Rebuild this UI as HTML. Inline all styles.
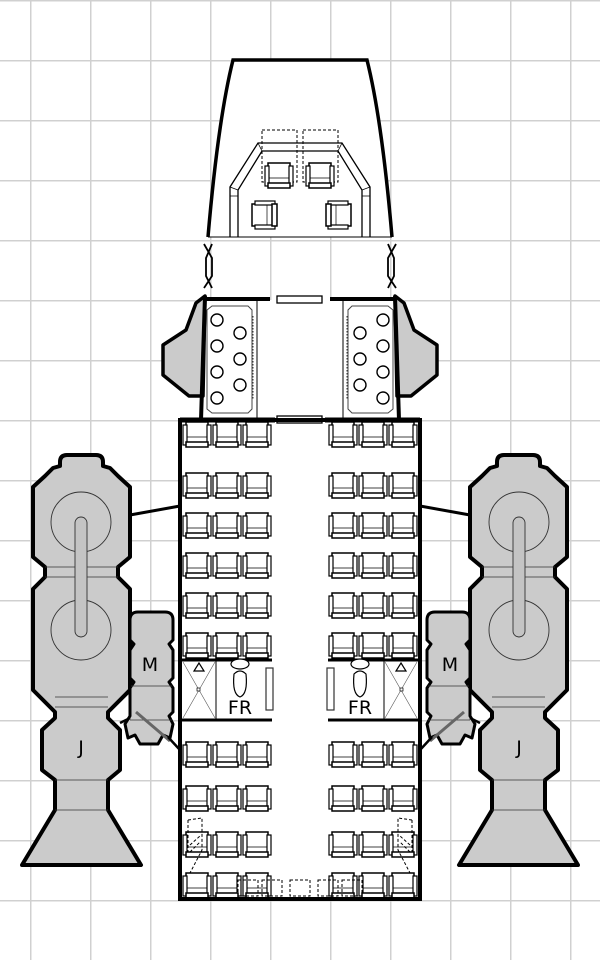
<!DOCTYPE html>
<html><head><meta charset="utf-8"><style>
html,body{margin:0;padding:0;background:#fff;}
svg{display:block;}
text{font-family:"DejaVu Sans","Liberation Sans",sans-serif;}
</style></head><body>
<svg width="600" height="960" viewBox="0 0 600 960" xmlns="http://www.w3.org/2000/svg">
<defs>
<g id="seat">
<rect x="3" y="0" width="22" height="22" fill="#fff" stroke="#000" stroke-width="1.5"/>
<rect x="0" y="3" width="4" height="20" fill="#fff" stroke="#000" stroke-width="1.2"/>
<rect x="24" y="3" width="4" height="20" fill="#fff" stroke="#000" stroke-width="1.2"/>
<line x1="4" y1="15" x2="24" y2="15" stroke="#000" stroke-width="0.7"/>
<rect x="3" y="20" width="22" height="5" fill="#fff" stroke="#000" stroke-width="1.5"/>
</g>
<g id="row">
<use href="#seat" x="0"/><use href="#seat" x="30"/><use href="#seat" x="60"/>
</g>
<pattern id="grid" width="60" height="60" patternUnits="userSpaceOnUse" x="30" y="0">
<path d="M0 0 H60 M0 0 V60" fill="none" stroke="#d0d0d0" stroke-width="3"/>
</pattern>
<g id="half">
<path d="M60 462 Q60 455 67 455 L96 455 Q103 455 103 462 L103 466 L110 468 L118 476 L130 487 L130 557 L118 567 L118 577 L130 589 L130 690 L108 712 L108 718 L120 730 L120 770 L108 780 L108 810 L141 865 L22 865 L55 810 L55 780 L42 770 L42 730 L55 718 L55 712 L33 690 L33 589 L45 577 L45 567 L33 557 L33 487 L45 476 L53 468 L60 466 Z" fill="#cbcbcb" stroke="#000" stroke-width="4" stroke-linejoin="round"/>
<line x1="45" y1="567" x2="118" y2="567" stroke="#333" stroke-width="0.8"/>
<line x1="45" y1="577" x2="118" y2="577" stroke="#333" stroke-width="0.8"/>
<line x1="55" y1="697" x2="108" y2="697" stroke="#333" stroke-width="0.8"/>
<line x1="55" y1="707" x2="108" y2="707" stroke="#333" stroke-width="0.8"/>
<line x1="55" y1="780" x2="108" y2="780" stroke="#333" stroke-width="0.8"/>
<line x1="55" y1="810" x2="108" y2="810" stroke="#333" stroke-width="0.8"/>
<circle cx="81" cy="522" r="30" fill="none" stroke="#333" stroke-width="0.9"/>
<circle cx="81" cy="630" r="30" fill="none" stroke="#333" stroke-width="0.9"/>
<rect x="75" y="517" width="12" height="120" rx="6" fill="#c4c4c4" stroke="#333" stroke-width="0.9"/>
<line x1="130" y1="515" x2="180" y2="506" stroke="#000" stroke-width="3"/>
<path d="M130 620 Q130 612 138 612 L165 612 Q173 612 173 620 L173 640 L169 644 L173 650 L173 678 L169 682 L173 688 L173 712 L169 716 L173 724 L170 738 L163 735 L158 744 L140 744 L135 735 L128 738 L125 724 L130 716 L130 688 L134 682 L130 678 L130 650 L134 644 L130 640 Z" fill="#cbcbcb" stroke="#000" stroke-width="3" stroke-linejoin="round"/>
<line x1="131" y1="686" x2="172" y2="686" stroke="#333" stroke-width="0.7"/>
<line x1="130" y1="720" x2="172" y2="720" stroke="#333" stroke-width="0.7"/>
<line x1="136" y1="712" x2="170" y2="741" stroke="#666" stroke-width="3"/>
<line x1="120" y1="723" x2="130" y2="718" stroke="#000" stroke-width="2.5"/>
<line x1="168" y1="737" x2="180" y2="750" stroke="#000" stroke-width="2.5"/>
<path d="M205 296 L196 303 L186 330 L163 345 L163 375 L189 396 L203 396 Z" fill="#cbcbcb" stroke="#000" stroke-width="3.5" stroke-linejoin="round"/>
<line x1="205" y1="296" x2="201" y2="420" stroke="#000" stroke-width="4"/>
<line x1="205" y1="299" x2="270" y2="299" stroke="#000" stroke-width="4"/>
<path d="M212 306 L248 306 L252 310 L252 409 L248 413 L212 413 L207 409 L207 310 Z" fill="#fff" stroke="#444" stroke-width="1"/>
<line x1="257" y1="300" x2="257" y2="418" stroke="#000" stroke-width="1"/>
<line x1="253" y1="316" x2="253" y2="400" stroke="#000" stroke-width="0.8" stroke-dasharray="1.5 1.5"/>
<g fill="#fff" stroke="#000" stroke-width="1.4">
<circle cx="217" cy="320" r="6"/><circle cx="240" cy="333" r="6"/><circle cx="217" cy="346" r="6"/><circle cx="240" cy="359" r="6"/><circle cx="217" cy="372" r="6"/><circle cx="240" cy="385" r="6"/><circle cx="217" cy="398" r="6"/>
</g>
<path d="M204 244 L212 258 L212 276 L204 288 M212 244 L206 258 L206 276 L212 288" fill="none" stroke="#000" stroke-width="1.8"/>
<use href="#row" x="183" y="422"/>
<use href="#row" x="183" y="473"/>
<use href="#row" x="183" y="513"/>
<use href="#row" x="183" y="553"/>
<use href="#row" x="183" y="593"/>
<use href="#row" x="183" y="633"/>
<use href="#row" x="183" y="742"/>
<use href="#row" x="183" y="786"/>
<use href="#row" x="183" y="832"/>
<use href="#row" x="183" y="873"/>
<line x1="180" y1="660" x2="272" y2="660" stroke="#000" stroke-width="3"/>
<line x1="180" y1="720" x2="272" y2="720" stroke="#000" stroke-width="3"/>
<line x1="216" y1="660" x2="216" y2="720" stroke="#000" stroke-width="1"/>
<path d="M183 662 L215 718 M215 662 L183 718" stroke="#555" stroke-width="0.6"/>
<rect x="197" y="688" width="3" height="3" fill="#fff" stroke="#000" stroke-width="0.7"/>
<path d="M199 663 L194 671 L204 671 Z" fill="#fff" stroke="#000" stroke-width="1.2"/>
<ellipse cx="240" cy="664" rx="9" ry="5" fill="#fff" stroke="#000" stroke-width="1.2"/>
<path d="M234 674 Q232 694 240 697 Q248 694 246 674 Q240 668 234 674 Z" fill="#fff" stroke="#000" stroke-width="1.2"/>
<rect x="266" y="668" width="7" height="42" fill="#fff" stroke="#333" stroke-width="1.2"/>
<path d="M188 820 L202 818 L202 850 L190 873 M188 820 L188 852 M190 852 L200 842 M190 845 L200 836" fill="none" stroke="#000" stroke-width="1" stroke-dasharray="3 2"/>
</g>
</defs>
<rect width="600" height="960" fill="#fff"/>
<rect width="600" height="960" fill="url(#grid)"/>
<path d="M233 60 L367 60 Q382 120 392 237 L208 237 Q218 120 233 60 Z" fill="#fff" stroke="none"/>
<path d="M208 237 Q218 120 233 60 L367 60 Q382 120 392 237" fill="none" stroke="#000" stroke-width="3.5"/>
<line x1="208" y1="237" x2="392" y2="237" stroke="#000" stroke-width="1"/>
<path d="M230 237 L230 187 L258 143 L342 143 L370 187 L370 237 M238 237 L238 190 L262 151 L338 151 L362 190 L362 237" fill="none" stroke="#000" stroke-width="1.3"/>
<path d="M230 187 L238 190 M230 196 L238 196 M258 143 L262 151 M342 143 L338 151 M370 187 L362 190 M370 196 L362 196" stroke="#000" stroke-width="0.8"/>
<g fill="none" stroke="#000" stroke-width="1" stroke-dasharray="3 2">
<rect x="262" y="130" width="35" height="52"/><rect x="303" y="130" width="35" height="52"/>
</g>
<use href="#seat" x="265" y="163"/>
<use href="#seat" x="306" y="163"/>
<g transform="translate(251,202) rotate(-90 14 13)"><use href="#seat"/></g>
<g transform="translate(324,202) rotate(90 14 13)"><use href="#seat"/></g>
<rect x="205" y="300" width="190" height="119" fill="#fff"/>
<rect x="182" y="421" width="236" height="477" fill="#fff"/>
<rect x="277" y="296" width="45" height="7" fill="#fff" stroke="#000" stroke-width="1.3"/>
<rect x="277" y="416" width="45" height="7" fill="#fff" stroke="#000" stroke-width="1.3"/>
<use href="#half"/>
<use href="#half" transform="translate(600,0) scale(-1,1)"/>
<rect x="180" y="420" width="240" height="479" fill="none" stroke="#000" stroke-width="4"/>
<line x1="180" y1="420" x2="275" y2="420" stroke="#000" stroke-width="5"/>
<line x1="325" y1="420" x2="420" y2="420" stroke="#000" stroke-width="5"/>
<g fill="none" stroke="#000" stroke-width="1" stroke-dasharray="3 2">
<rect x="238" y="880" width="20" height="16"/><rect x="262" y="880" width="20" height="16"/><rect x="290" y="880" width="20" height="16"/><rect x="318" y="880" width="20" height="16"/><rect x="342" y="880" width="20" height="16"/>
</g>
<g font-size="19" fill="#000" text-anchor="middle">
<text x="240" y="714">FR</text><text x="360" y="714">FR</text>
<text x="150" y="671">M</text><text x="450" y="671">M</text>
<text x="81" y="754">J</text><text x="519" y="754">J</text>
</g>
</svg>
</body></html>
